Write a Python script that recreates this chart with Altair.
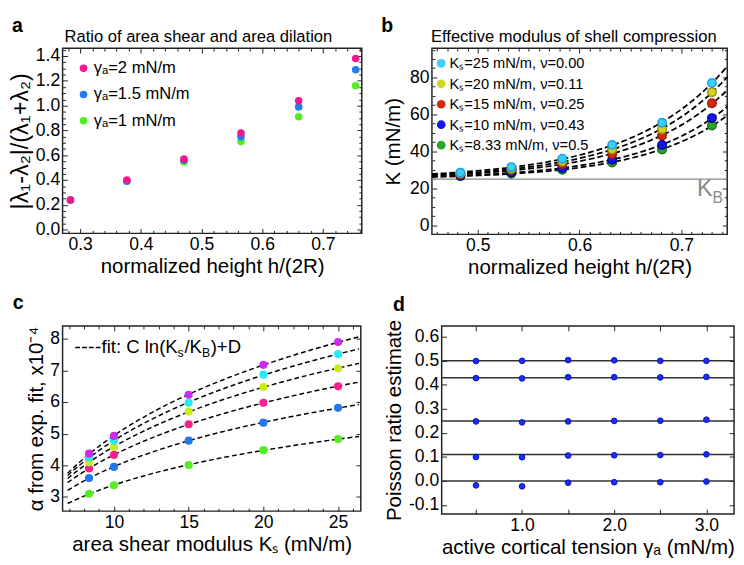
import altair as alt
import pandas as pd

FONT = "Liberation Sans"

# ---------------- panel a ----------------
a_height = [0.284, 0.377, 0.471, 0.565, 0.660, 0.754]
a_gamma2 = [0.24, 0.40, 0.57, 0.78, 1.04, 1.38]
a_gamma15 = [0.24, 0.39, 0.56, 0.75, 0.99, 1.29]
a_gamma1 = [0.24, 0.39, 0.545, 0.71, 0.91, 1.16]
a_series = ["γₐ=2 mN/m", "γₐ=1.5 mN/m", "γₐ=1 mN/m"]
a_colors = ["#f7158f", "#1f7cf3", "#4fef1f"]
a_xticks = [0.3, 0.4, 0.5, 0.6, 0.7]
a_yticks = [0.0, 0.2, 0.4, 0.6, 0.8, 1.0, 1.2, 1.4]

# ---------------- panel b ----------------
b_height = [0.483, 0.533, 0.583, 0.632, 0.681, 0.730]
b_k25 = [28.5, 31.5, 36.0, 43.5, 55.5, 77.0]
b_k20 = [28.0, 30.5, 34.5, 41.0, 52.0, 72.0]
b_k15 = [27.5, 30.0, 33.0, 38.5, 48.5, 66.0]
b_k10 = [26.8, 28.5, 31.0, 35.5, 43.5, 58.0]
b_k833 = [26.6, 28.0, 30.0, 34.0, 41.0, 54.0]
b_series = ["Kₛ=25 mN/m, ν=0.00", "Kₛ=20 mN/m, ν=0.11", "Kₛ=15 mN/m, ν=0.25",
            "Kₛ=10 mN/m, ν=0.43", "Kₛ=8.33 mN/m, ν=0.5"]
b_fill = ["#3ccffa", "#d2d41e", "#d42a0c", "#1414f0", "#26a826"]
b_stroke = ["#1c9fd8", "#9a9a00", "#a01800", "#0000a8", "#137513"]
b_KB = 25
b_xticks = [0.5, 0.6, 0.7]
b_yticks = [0, 20, 40, 60, 80]

# ---------------- panel c ----------------
c_ks = [8.33, 10, 15, 20, 25]
c_s1 = [4.37, 4.93, 6.23, 7.18, 7.90]
c_s2 = [4.25, 4.78, 5.98, 6.87, 7.52]
c_s3 = [4.10, 4.58, 5.70, 6.48, 7.07]
c_s4 = [3.90, 4.33, 5.30, 5.98, 6.50]
c_s5 = [3.60, 3.95, 4.78, 5.35, 5.82]
c_s6 = [3.10, 3.37, 4.01, 4.48, 4.83]
c_colors = ["#cc2cf0", "#28e8f0", "#c8ec1e", "#f8208c", "#2278ee", "#54ec22"]
c_xticks = [10, 15, 20, 25]
c_yticks = [3, 4, 5, 6, 7, 8]

# ---------------- panel d ----------------
d_gamma = [0.5, 1.0, 1.5, 2.0, 2.5, 3.0]
d_nu50 = [0.499, 0.500, 0.503, 0.502, 0.500, 0.500]
d_nu43 = [0.428, 0.427, 0.432, 0.432, 0.431, 0.433]
d_nu25 = [0.248, 0.244, 0.248, 0.250, 0.251, 0.255]
d_nu11 = [0.100, 0.099, 0.106, 0.107, 0.108, 0.111]
d_nu00 = [-0.018, -0.022, -0.007, -0.005, -0.005, -0.002]
d_lines = [0.5, 0.43, 0.25, 0.11, 0.0]
d_xticks = [0.5, 1.0, 1.5, 2.0, 2.5, 3.0]
d_yticks = [-0.1, 0.0, 0.1, 0.2, 0.3, 0.4, 0.5, 0.6]

# ---------------- data frames ----------------
df_a = pd.DataFrame(
    [{"h": x, "r": v, "s": a_series[2]} for x, v in zip(a_height, a_gamma1)]
    + [{"h": x, "r": v, "s": a_series[1]} for x, v in zip(a_height, a_gamma15)]
    + [{"h": x, "r": v, "s": a_series[0]} for x, v in zip(a_height, a_gamma2)]
)
b_vals = [b_k25, b_k20, b_k15, b_k10, b_k833]
df_b = pd.DataFrame(
    [{"h": x, "K": v, "s": b_series[i]} for i in reversed(range(5)) for x, v in zip(b_height, b_vals[i])]
)
c_vals = [c_s1, c_s2, c_s3, c_s4, c_s5, c_s6]
c_names = ["s1", "s2", "s3", "s4", "s5", "s6"]
df_c = pd.DataFrame(
    [{"k": x, "al": v, "s": c_names[i]} for i in reversed(range(6)) for x, v in zip(c_ks, c_vals[i])]
)
d_vals = [d_nu50, d_nu43, d_nu25, d_nu11, d_nu00]
df_d = pd.DataFrame([{"g": x, "nu": v} for row in d_vals for x, v in zip(d_gamma, row)])
df_dl = pd.DataFrame({"nu": d_lines})


def minors(lo, hi, step, majors):
    out = []
    n = int(round((hi - lo) / step))
    for i in range(n + 1):
        v = round(lo + i * step, 4)
        if all(abs(v - m) > 1e-6 for m in majors):
            out.append(v)
    return out


def ax(orient, values, size, labels=False, title=None, fmt=None, expr=None, tpad=None, tsize=21):
    # ticks drawn inward: axis shifted into the plot by its tick length, no domain line
    kw = dict(orient=orient, values=values, tickSize=size, offset=-size, tickColor="#222",
              tickWidth=1, domain=False, grid=False, labels=labels, title=title)
    if labels:
        kw.update(labelPadding=3, labelFontSize=18, labelFont=FONT, labelColor="black",
                  labelOverlap=False)
        if fmt:
            kw["format"] = fmt
        if expr:
            kw["labelExpr"] = expr
    if title is not None:
        kw.update(titleFontSize=tsize, titleFont=FONT, titleFontWeight="normal", titleColor="black")
        if tpad is not None:
            kw["titlePadding"] = tpad
    return alt.Axis(**kw)


def frame(df, xf, yf, xs, ys, xmaj, ymaj, xmin, ymin, xtitle, ytitle, xfmt, yfmt,
          xexpr=None, yexpr=None, xtp=2, ytp=4, ytsize=21):
    base = alt.Chart(df).mark_point(opacity=0)
    layers = [
        base.encode(x=alt.X(xf, scale=xs, axis=ax("bottom", xmaj, 5, True, xtitle, xfmt, xexpr, xtp)),
                    y=alt.Y(yf, scale=ys, axis=ax("left", ymaj, 5, True, ytitle, yfmt, yexpr, ytp, ytsize))),
        base.encode(x=alt.X(xf, scale=xs, axis=ax("top", xmaj, 5)),
                    y=alt.Y(yf, scale=ys, axis=ax("right", ymaj, 5))),
    ]
    if xmin or ymin:
        layers.append(base.encode(
            x=alt.X(xf, scale=xs, axis=ax("bottom", xmin, 3) if xmin else None),
            y=alt.Y(yf, scale=ys, axis=ax("left", ymin, 3) if ymin else None)))
        layers.append(base.encode(
            x=alt.X(xf, scale=xs, axis=ax("top", xmin, 3) if xmin else None),
            y=alt.Y(yf, scale=ys, axis=ax("right", ymin, 3) if ymin else None)))
    return layers


def label(t, x, y):
    return alt.Chart(pd.DataFrame({"t": [t]})).mark_text(
        font=FONT, fontSize=20, fontWeight="bold", align="left", baseline="alphabetic", color="black"
    ).encode(text="t:N", x=alt.value(x), y=alt.value(y))


def txt(t, x, y, size, color="black"):
    return alt.Chart(pd.DataFrame({"t": [t]})).mark_text(
        font=FONT, fontSize=size, align="left", baseline="alphabetic", color=color
    ).encode(text="t:N", x=alt.value(x), y=alt.value(y))


# ---------------- panel a ----------------
xs_a = alt.Scale(domain=[0.271, 0.764], nice=False, zero=False)
ys_a = alt.Scale(domain=[-0.03, 1.463], nice=False, zero=False)
pa_layers = frame(df_a, "h:Q", "r:Q", xs_a, ys_a, a_xticks, a_yticks,
                  minors(0.28, 0.76, 0.02, a_xticks), minors(0.0, 1.45, 0.05, a_yticks),
                  "normalized height h/(2R)", "|λ₁-λ₂|/(λ₁+λ₂)", ".1f", ".1f", ytp=3, ytsize=24)
pa_points = alt.Chart(df_a).mark_circle(size=60, opacity=1).encode(
    x=alt.X("h:Q", scale=xs_a, axis=None),
    y=alt.Y("r:Q", scale=ys_a, axis=None),
    color=alt.Color("s:N", scale=alt.Scale(domain=a_series, range=a_colors),
                    legend=alt.Legend(orient="none", legendX=13, legendY=12, title=None,
                                      labelFont=FONT, labelFontSize=17, labelColor="black",
                                      symbolType="circle", symbolSize=60, symbolStrokeWidth=0,
                                      rowPadding=9, labelOffset=2, padding=0)),
)
pa = alt.layer(*pa_layers, pa_points,
               txt("Ratio of area shear and area dilation", 2, -6, 17),
               label("a", -52, -17)).resolve_axis(
    x="independent", y="independent").properties(width=307, height=190)

# ---------------- panel b ----------------
xs_b = alt.Scale(domain=[0.455, 0.745], nice=False, zero=False)
ys_b = alt.Scale(domain=[-4.9, 95.8], nice=False, zero=False)
pb_layers = frame(df_b, "h:Q", "K:Q", xs_b, ys_b, b_xticks, b_yticks,
                  minors(0.46, 0.74, 0.01, b_xticks), minors(0, 95, 5, b_yticks),
                  "normalized height h/(2R)", "K (mN/m)", ".1f", "d", ytp=6)
pb_kb = alt.Chart(pd.DataFrame({"kb": [b_KB]})).mark_rule(color="#8a8a8a", strokeWidth=1.2).encode(
    y=alt.Y("kb:Q", scale=ys_b, axis=None))
pb_fit = alt.Chart(df_b).transform_calculate(ex=f"datum.K - {b_KB}").transform_regression(
    "h", "ex", groupby=["s"], method="exp", extent=[0.455, 0.745]
).transform_calculate(Kf=f"datum.ex + {b_KB}").mark_line(
    color="black", strokeDash=[6, 3], strokeWidth=1.8
).encode(x=alt.X("h:Q", scale=xs_b, axis=None), y=alt.Y("Kf:Q", scale=ys_b, axis=None), detail="s:N")
pb_points = alt.Chart(df_b).mark_circle(size=75, opacity=1, strokeWidth=1.5).encode(
    x=alt.X("h:Q", scale=xs_b, axis=None),
    y=alt.Y("K:Q", scale=ys_b, axis=None),
    fill=alt.Fill("s:N", scale=alt.Scale(domain=b_series, range=b_fill),
                  legend=alt.Legend(orient="none", legendX=2, legendY=8, title=None,
                                    labelFont=FONT, labelFontSize=15, labelColor="black",
                                    symbolType="circle", symbolSize=80, symbolStrokeWidth=0,
                                    rowPadding=5, labelOffset=1, padding=0)),
    stroke=alt.Stroke("s:N", scale=alt.Scale(domain=b_series, range=b_stroke), legend=None),
)
pb = alt.layer(*pb_layers, pb_kb, pb_fit, pb_points,
               txt("K", 272, 152, 24, "#8a8a8a"), txt("B", 288, 159, 16, "#8a8a8a"),
               txt("Effective modulus of shell compression", -1, -6, 17),
               label("b", -52, -17)).resolve_axis(
    x="independent", y="independent").properties(width=303, height=191)

# ---------------- panel c ----------------
xs_c = alt.Scale(domain=[6.56, 26.52], nice=False, zero=False)
ys_c = alt.Scale(domain=[2.55, 8.41], nice=False, zero=False)
pc_layers = frame(df_c, "k:Q", "al:Q", xs_c, ys_c, c_xticks, c_yticks,
                  minors(7, 26, 1, c_xticks), [],
                  "area shear modulus Kₛ (mN/m)", "α from exp. fit, x10⁻⁴", "d", "d", ytp=4)
pc_fit = alt.Chart(df_c).transform_regression(
    "k", "al", groupby=["s"], method="log", extent=[6.9, 26.4]
).mark_line(color="black", strokeDash=[5, 3], strokeWidth=1.5).encode(
    x=alt.X("k:Q", scale=xs_c, axis=None), y=alt.Y("al:Q", scale=ys_c, axis=None), detail="s:N")
pc_points = alt.Chart(df_c).mark_circle(size=70, opacity=1).encode(
    x=alt.X("k:Q", scale=xs_c, axis=None),
    y=alt.Y("al:Q", scale=ys_c, axis=None),
    color=alt.Color("s:N", scale=alt.Scale(domain=c_names, range=c_colors), legend=None),
)
pc_legline = alt.Chart(pd.DataFrame({"t": [0]})).mark_rule(
    color="black", strokeDash=[5, 2], strokeWidth=1.5
).encode(x=alt.value(13), x2=alt.value(39), y=alt.value(22))
lx = 40
pc_leg = [
    txt("fit: C ln(K", lx, 28, 19),
    txt("s", lx + 78, 32, 12.5),
    txt("/K", lx + 85, 28, 19),
    txt("B", lx + 103, 32, 12.5),
    txt(")+D", lx + 112, 28, 19),
]
pc = alt.layer(*pc_layers, pc_fit, pc_points, pc_legline, *pc_leg, label("c", -51, -17)).resolve_axis(
    x="independent", y="independent").properties(width=306, height=190)

# ---------------- panel d ----------------
xs_d = alt.Scale(domain=[0.128, 3.30], nice=False, zero=False)
ys_d = alt.Scale(domain=[-0.1375, 0.645], nice=False, zero=False)
pd_layers = frame(df_d, "g:Q", "nu:Q", xs_d, ys_d, d_xticks, d_yticks, [], [],
                  "active cortical tension γₐ (mN/m)", "Poisson ratio estimate", ".1f", ".1f",
                  xexpr="datum.value % 1 == 0 ? format(datum.value, '.1f') : ''",
                  yexpr="replace(format(datum.value, '.1f'), '\u2212', '-')", ytp=4)
pd_lines = alt.Chart(df_dl).mark_rule(color="#333", strokeWidth=1.5).encode(
    y=alt.Y("nu:Q", scale=ys_d, axis=None))
pd_points = alt.Chart(df_d).mark_circle(size=34, opacity=1, color="#1a2cff", stroke="#0a14b0",
                                        strokeWidth=1).encode(
    x=alt.X("g:Q", scale=xs_d, axis=None), y=alt.Y("nu:Q", scale=ys_d, axis=None))
pdd = alt.layer(*pd_layers, pd_lines, pd_points, label("d", -50, -15)).resolve_axis(
    x="independent", y="independent").properties(width=300, height=193)

res = dict(color="independent", fill="independent", stroke="independent")
row1 = alt.hconcat(pa, pb, spacing=17).resolve_scale(**res)
row2 = alt.hconcat(pc, pdd, spacing=21).resolve_scale(**res)
chart = alt.vconcat(row1, row2, spacing=15).resolve_scale(**res).properties(padding=0).configure_view(
    stroke="#222", strokeWidth=1.5
).configure_text(font=FONT)

chart.save("out.html", embed_options={"renderer": "svg", "actions": False})
